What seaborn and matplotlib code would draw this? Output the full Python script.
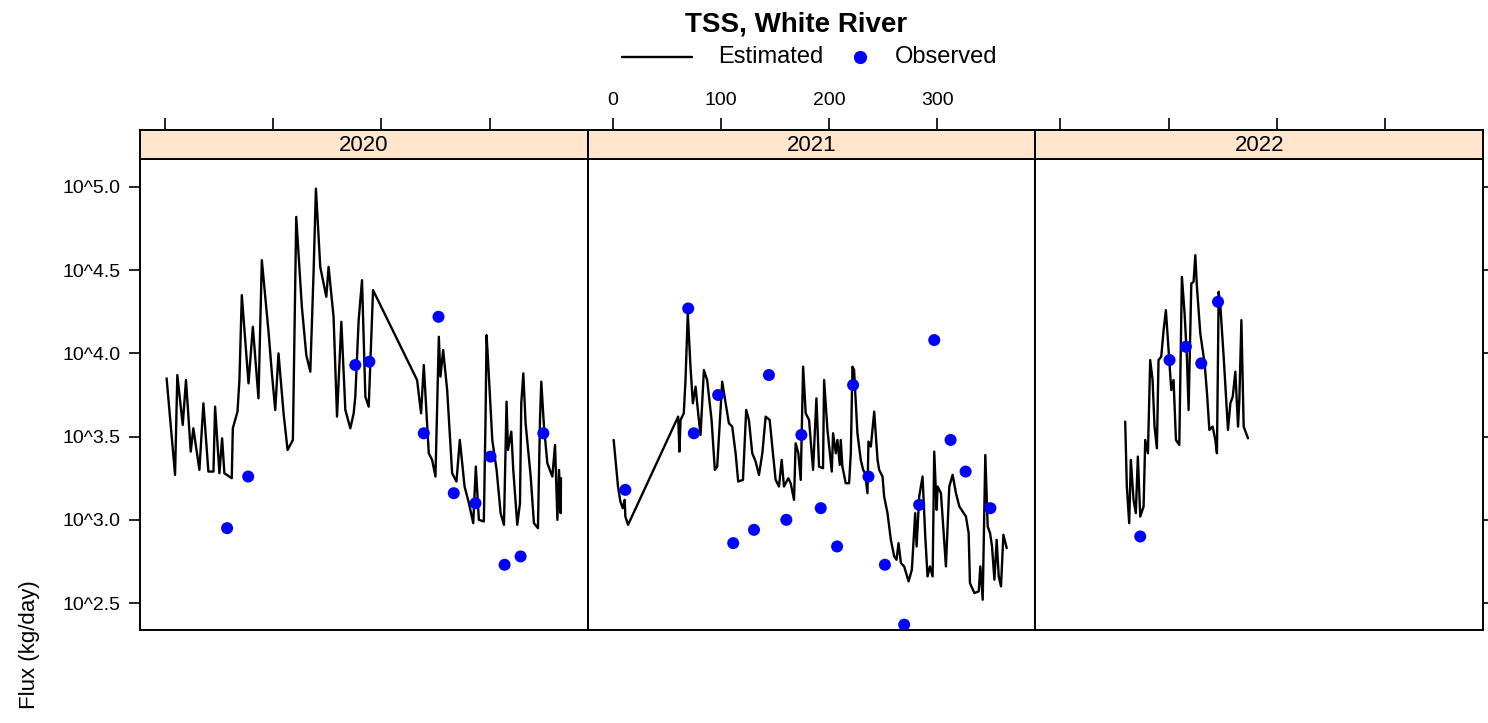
import numpy as np
import pandas as pd
import matplotlib.pyplot as plt
from matplotlib.lines import Line2D
import seaborn as sns

# day of year and log10(flux, kg/day)
years = [2020, 2021, 2022]

est_day_2020 = [1.5, 9.3, 11.4, 16.4, 19.4, 23.8, 26.2, 31.8, 35.5, 40.1, 44.8, 46.3, 50.3, 52.8,
                54.9, 61.7, 62.7, 67.0, 68.8, 71.0, 77.2, 81.2, 86.4, 89.5, 95.7, 98.8, 101.9,
                104.9, 109.6, 113.3, 118.2, 121.3, 126.5, 130.6, 134.3, 137.3, 139.5, 143.5,
                149.1, 151.2, 155.8, 159.0, 163.0, 166.7, 171.3, 174.4, 175.9, 179.0, 182.1,
                185.2, 188.3, 192.3, 233.0, 236.7, 239.2, 243.8, 246.9, 250.0, 253.1, 254.6,
                257.1, 260.8, 265.4, 269.4, 272.5, 276.9, 280.9, 284.9, 287.3, 290.1, 294.7,
                296.3, 297.2, 298.4, 302.5, 306.5, 310.2, 313.3, 315.7, 317.0, 320.1, 321.9,
                325.6, 328.1, 329.3, 331.2, 333.3, 338.0, 341.0, 344.7, 346.6, 347.8, 350.3,
                353.4, 358.0, 360.5, 362.7, 364.2, 365.7, 366.0]
est_log_2020 = [3.85, 3.27, 3.87, 3.57, 3.84, 3.41, 3.55, 3.30, 3.70, 3.29, 3.29, 3.68, 3.28, 3.49,
                3.28, 3.25, 3.55, 3.65, 3.84, 4.35, 3.82, 4.16, 3.73, 4.56, 4.13, 3.88, 3.66,
                4.00, 3.64, 3.42, 3.48, 4.82, 4.28, 3.99, 3.89, 4.48, 4.99, 4.52,
                4.34, 4.52, 4.22, 3.62, 4.19, 3.66, 3.55, 3.64, 3.74, 4.20, 4.44,
                3.74, 3.68, 4.38, 3.84, 3.64, 3.93, 3.40, 3.36, 3.26, 4.10, 3.86,
                4.02, 3.78, 3.28, 3.23, 3.48, 3.20, 3.10, 2.98, 3.32, 3.00, 2.99,
                3.62, 4.11, 3.98, 3.48, 3.30, 3.04, 2.97, 3.71, 3.42, 3.53, 3.30,
                2.97, 3.10, 3.70, 3.88, 3.58, 3.26, 2.98, 2.95, 3.60, 3.83, 3.56,
                3.34, 3.26, 3.45, 3.00, 3.30, 3.04, 3.25]

est_day_2021 = [0.9, 4.9, 7.1, 9.3, 11.1, 11.7, 14.2, 60.5, 61.7, 62.7, 65.7, 67.3, 69.4, 71.9,
                74.1, 76.6, 79.0, 81.2, 84.3, 87.3, 91.4, 94.4, 96.6, 101.2, 107.4, 110.5,
                113.6, 116.0, 120.4, 123.4, 125.9, 129.0, 132.1, 135.2, 138.3, 141.4, 145.1,
                148.1, 150.6, 153.7, 156.2, 158.3, 162.3, 164.5, 167.6, 169.1, 171.6, 173.8,
                176.0, 178.4, 181.5, 185.2, 188.3, 190.7, 194.4, 195.4, 198.5, 202.5, 203.7,
                206.2, 207.7, 209.9, 210.8, 212.3, 215.4, 218.5, 220.1, 221.6, 223.1, 226.2,
                229.3, 231.5, 233.3, 235.5, 236.4, 238.6, 241.7, 244.8, 246.3, 249.4, 250.9,
                254.0, 257.1, 260.2, 262.3, 264.2, 266.4, 269.4, 273.5, 276.5, 279.6, 280.9,
                283.3, 286.4, 288.9, 291.0, 293.2, 295.7, 297.2, 299.4, 300.3, 303.4, 308.0,
                311.1, 314.2, 317.3, 320.4, 326.5, 329.0, 330.2, 334.3, 338.3, 339.8, 342.0,
                344.4, 346.6, 348.8, 350.6, 352.8, 354.9, 356.8, 358.9, 361.1, 364.2]
est_log_2021 = [3.48, 3.20, 3.11, 3.07, 3.12, 3.02, 2.97, 3.62, 3.41, 3.60, 3.64, 3.84, 4.24, 3.92,
                3.70, 3.80, 3.64, 3.51, 3.90, 3.84, 3.60, 3.30, 3.32, 3.83, 3.58, 3.56,
                3.40, 3.23, 3.24, 3.66, 3.60, 3.40, 3.35, 3.27, 3.40, 3.62, 3.60,
                3.40, 3.24, 3.20, 3.36, 3.20, 3.25, 3.22, 3.12, 3.46, 3.40, 3.24,
                3.92, 3.64, 3.60, 3.30, 3.73, 3.32, 3.31, 3.84, 3.54, 3.29, 3.52,
                3.40, 3.48, 3.33, 3.48, 3.32, 3.22, 3.22, 3.40, 3.92, 3.90, 3.52,
                3.36, 3.30, 3.28, 3.16, 3.47, 3.44, 3.65, 3.36, 3.30, 3.26, 3.14,
                3.04, 2.88, 2.78, 2.76, 2.86, 2.74, 2.72, 2.63, 2.70, 3.04, 2.84,
                3.14, 3.26, 2.90, 2.66, 2.72, 2.66, 3.41, 3.06, 3.20, 3.16, 2.72,
                3.20, 3.27, 3.16, 3.08, 3.02, 2.92, 2.62, 2.56, 2.57, 2.72, 2.52,
                3.39, 2.96, 2.92, 2.84, 2.64, 2.88, 2.66, 2.60, 2.91, 2.83]

est_day_2022 = [59.9, 61.4, 63.6, 65.1, 67.6, 69.7, 71.6, 73.8, 76.9, 78.4, 80.9, 83.0, 85.2,
                87.0, 89.2, 90.7, 93.2, 95.4, 97.5, 100.0, 102.5, 104.6, 106.8, 109.9, 112.3,
                114.8, 116.9, 118.5, 121.0, 123.1, 124.7, 126.2, 129.3, 133.3, 135.5, 137.7,
                140.7, 143.2, 144.7, 146.3, 147.9, 150.9, 154.9, 157.1, 159.3, 161.7, 164.2,
                165.4, 167.3, 169.4, 173.4]
est_log_2022 = [3.59, 3.20, 2.98, 3.36, 3.12, 3.04, 3.38, 3.02, 3.08, 3.48, 3.40, 3.96, 3.84,
                3.56, 3.43, 3.96, 3.98, 4.14, 4.26, 4.02, 3.78, 3.84, 3.48, 3.45, 4.46,
                4.24, 3.98, 3.66, 4.42, 4.43, 4.59, 4.40, 4.12, 3.94, 3.76, 3.54,
                3.56, 3.48, 3.40, 4.37, 4.28, 3.98, 3.54, 3.70, 3.74, 3.89, 3.56,
                3.72, 4.20, 3.56, 3.49]

obs_day_2020 = [57.4, 76.9, 175.9, 188.9, 239.2, 252.8, 266.9, 287.0, 300.9, 313.9, 328.7, 349.7]
obs_log_2020 = [2.95, 3.26, 3.93, 3.95, 3.52, 4.22, 3.16, 3.10, 3.38, 2.73, 2.78, 3.52]

obs_day_2021 = [11.7, 69.8, 75.0, 97.5, 111.4, 130.6, 144.4, 160.5, 174.4, 192.3, 207.4, 222.2,
                236.4, 251.6, 269.4, 283.3, 297.2, 312.3, 326.2, 349.1]
obs_log_2021 = [3.18, 4.27, 3.52, 3.75, 2.86, 2.94, 3.87, 3.00, 3.51, 3.07, 2.84, 3.81,
                3.26, 2.73, 2.37, 3.09, 4.08, 3.48, 3.29, 3.07]

obs_day_2022 = [73.8, 100.9, 116.0, 130.2, 145.7]
obs_log_2022 = [2.90, 3.96, 4.04, 3.94, 4.31]

yticks = [2.5, 3.0, 3.5, 4.0, 4.5, 5.0]
ytick_labels = ["10^2.5", "10^3.0", "10^3.5", "10^4.0", "10^4.5", "10^5.0"]
xticks = [0, 100, 200, 300]

est = pd.concat([
    pd.DataFrame({"year": 2020, "day": est_day_2020, "flux": est_log_2020}),
    pd.DataFrame({"year": 2021, "day": est_day_2021, "flux": est_log_2021}),
    pd.DataFrame({"year": 2022, "day": est_day_2022, "flux": est_log_2022}),
])
obs = pd.concat([
    pd.DataFrame({"year": 2020, "day": obs_day_2020, "flux": obs_log_2020}),
    pd.DataFrame({"year": 2021, "day": obs_day_2021, "flux": obs_log_2021}),
    pd.DataFrame({"year": 2022, "day": obs_day_2022, "flux": obs_log_2022}),
])

sns.set_theme(style="white")
plt.rcParams["font.family"] = ["Liberation Sans", "DejaVu Sans"]
plt.rcParams["text.color"] = "black"
plt.rcParams["xtick.color"] = "black"
plt.rcParams["ytick.color"] = "black"
plt.rcParams["axes.labelcolor"] = "black"

W, H = 1488, 723
fig = plt.figure(figsize=(W / 100, H / 100), dpi=100)

blue = "#0000FF"
panel_w = 447.7
for i, yr in enumerate(years):
    x0 = (140 + i * panel_w) / W
    ax = fig.add_axes([x0, 1 - 630 / H, panel_w / W, (630 - 159) / H])
    sax = fig.add_axes([x0, 1 - 159 / H, panel_w / W, 29 / H], sharex=ax)

    sns.lineplot(data=est[est.year == yr], x="day", y="flux", ax=ax, color="black",
                 lw=1.7, estimator=None, sort=False, legend=False)
    sns.scatterplot(data=obs[obs.year == yr], x="day", y="flux", ax=ax, color=blue,
                    s=75, edgecolor="none", zorder=3, legend=False)

    ax.set_xlim(-23.1, 390.7)
    ax.set_ylim(2.338, 5.168)
    ax.set_xlabel("")
    ax.set_ylabel("")
    for sp in ax.spines.values():
        sp.set_linewidth(1.4)
        sp.set_color("black")

    ax.tick_params(axis="x", bottom=False, labelbottom=False, top=False, labeltop=False)
    ax.set_yticks(yticks)
    ax.set_yticklabels(ytick_labels)
    if i == 0:
        ax.tick_params(axis="y", left=True, labelleft=True, right=False, direction="out",
                       length=8, width=1.2, pad=6, labelsize=14, color="black",
                       labelcolor="black")
    elif i == 2:
        ax.tick_params(axis="y", left=False, labelleft=False, right=True, labelright=False,
                       direction="out", length=8, width=1.2, color="black")
    else:
        ax.tick_params(axis="y", left=False, labelleft=False)

    # strip
    sax.set_facecolor("#FFE5CC")
    sax.set_yticks([])
    for sp in sax.spines.values():
        sp.set_linewidth(1.4)
        sp.set_color("black")
    sax.text(0.5, 0.45, str(yr), transform=sax.transAxes, ha="center", va="center",
             fontsize=16, color="black")
    sax.set_xticks(xticks)
    sax.tick_params(axis="x", bottom=False, labelbottom=False, top=True, labeltop=(i == 1),
                    direction="out", length=9, width=1.2, pad=6, labelsize=14, color="black",
                    labelcolor="black")

# title and key
fig.text(796 / W, 1 - 25 / H, "TSS, White River", ha="center", va="center",
         fontsize=20, fontweight="bold", color="black")
ky = 1 - 57 / H
fig.add_artist(Line2D([622 / W, 692 / W], [ky, ky], color="black", lw=1.7))
fig.text(718 / W, ky, "Estimated", ha="left", va="center", fontsize=17, color="black")
fig.add_artist(Line2D([860 / W], [ky], marker="o", color=blue, markersize=8.5, ls=""))
fig.text(895 / W, ky, "Observed", ha="left", va="center", fontsize=17, color="black")

fig.text(30 / W, 1 - 645 / H, "Flux (kg/day)", rotation=90, ha="center", va="center",
         fontsize=16, color="black")

fig.savefig("out.png", dpi=100)
